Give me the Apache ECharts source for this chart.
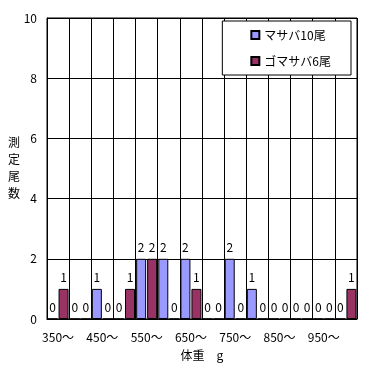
<!DOCTYPE html>
<html><head><meta charset="utf-8">
<script src="https://cdn.jsdelivr.net/npm/echarts@6/dist/echarts.min.js"></script>
<style>html,body{margin:0;padding:0;background:#fff}#c{width:375px;height:366px}</style>
</head><body><div id="c"></div>
<script>
const categories = ['350～','400～','450～','500～','550～','600～','650～','700～','750～','800～','850～','900～','950～','1000～'];
const masaba = [0,0,1,0,2,2,2,0,2,1,0,0,0,0];
const gomasaba = [1,0,0,1,2,0,1,0,0,0,0,0,0,1];
const seriesNames = ['マサバ10尾','ゴマサバ6尾'];
const yTicks = {min:0, max:10, interval:2};
const yTitleChars = ['測','定','尾','数'];
const FONT = '"Noto Sans CJK JP", sans-serif';
const chart = echarts.init(document.getElementById('c'));
const lbl = {show:true, position:'top', distance:5, color:'#000', fontSize:12, fontFamily:FONT};
chart.setOption({
  animation:false,
  backgroundColor:'#fff',
  grid:{left:47, right:18, top:18, bottom:45, show:true, borderColor:'#000', borderWidth:1},
  graphic:yTitleChars.map((ch, i) => ({type:'text', left:8, top:136 + i * 17,
    style:{text:ch, fontSize:12, fontFamily:FONT, fill:'#000'}})),
  legend:{
    right:24, top:21, orient:'vertical', itemGap:14,
    backgroundColor:'#fff', borderColor:'#000', borderWidth:1,
    padding:[8,20,8,28], itemWidth:8, itemHeight:8, icon:'rect',
    textStyle:{fontSize:12, fontFamily:FONT, color:'#000'},
    data:seriesNames
  },
  xAxis:{
    type:'category', data:categories, boundaryGap:true,
    name:'体重　g', nameLocation:'middle', nameGap:30,
    nameTextStyle:{fontSize:12, fontFamily:FONT, color:'#000'},
    axisLine:{lineStyle:{color:'#000'}},
    axisTick:{show:false},
    axisLabel:{interval:1, color:'#000', fontSize:12, fontFamily:FONT, margin:12},
    splitLine:{show:true, interval:0, lineStyle:{color:'#000', width:1}}
  },
  yAxis:{
    type:'value', min:yTicks.min, max:yTicks.max, interval:yTicks.interval,
    axisLine:{show:true, lineStyle:{color:'#000'}},
    axisTick:{show:false},
    axisLabel:{color:'#000', fontSize:12, fontFamily:FONT, margin:10},
    splitLine:{show:true, lineStyle:{color:'#000', width:1}}
  },
  series:[
    {name:seriesNames[0], type:'bar', data:masaba, barWidth:10, barGap:'10%',
     itemStyle:{color:'#9999FF', borderColor:'#000', borderWidth:1}, label:lbl},
    {name:seriesNames[1], type:'bar', data:gomasaba, barWidth:10, barGap:'10%',
     itemStyle:{color:'#993366', borderColor:'#000', borderWidth:1}, label:lbl}
  ]
});
</script></body></html>
